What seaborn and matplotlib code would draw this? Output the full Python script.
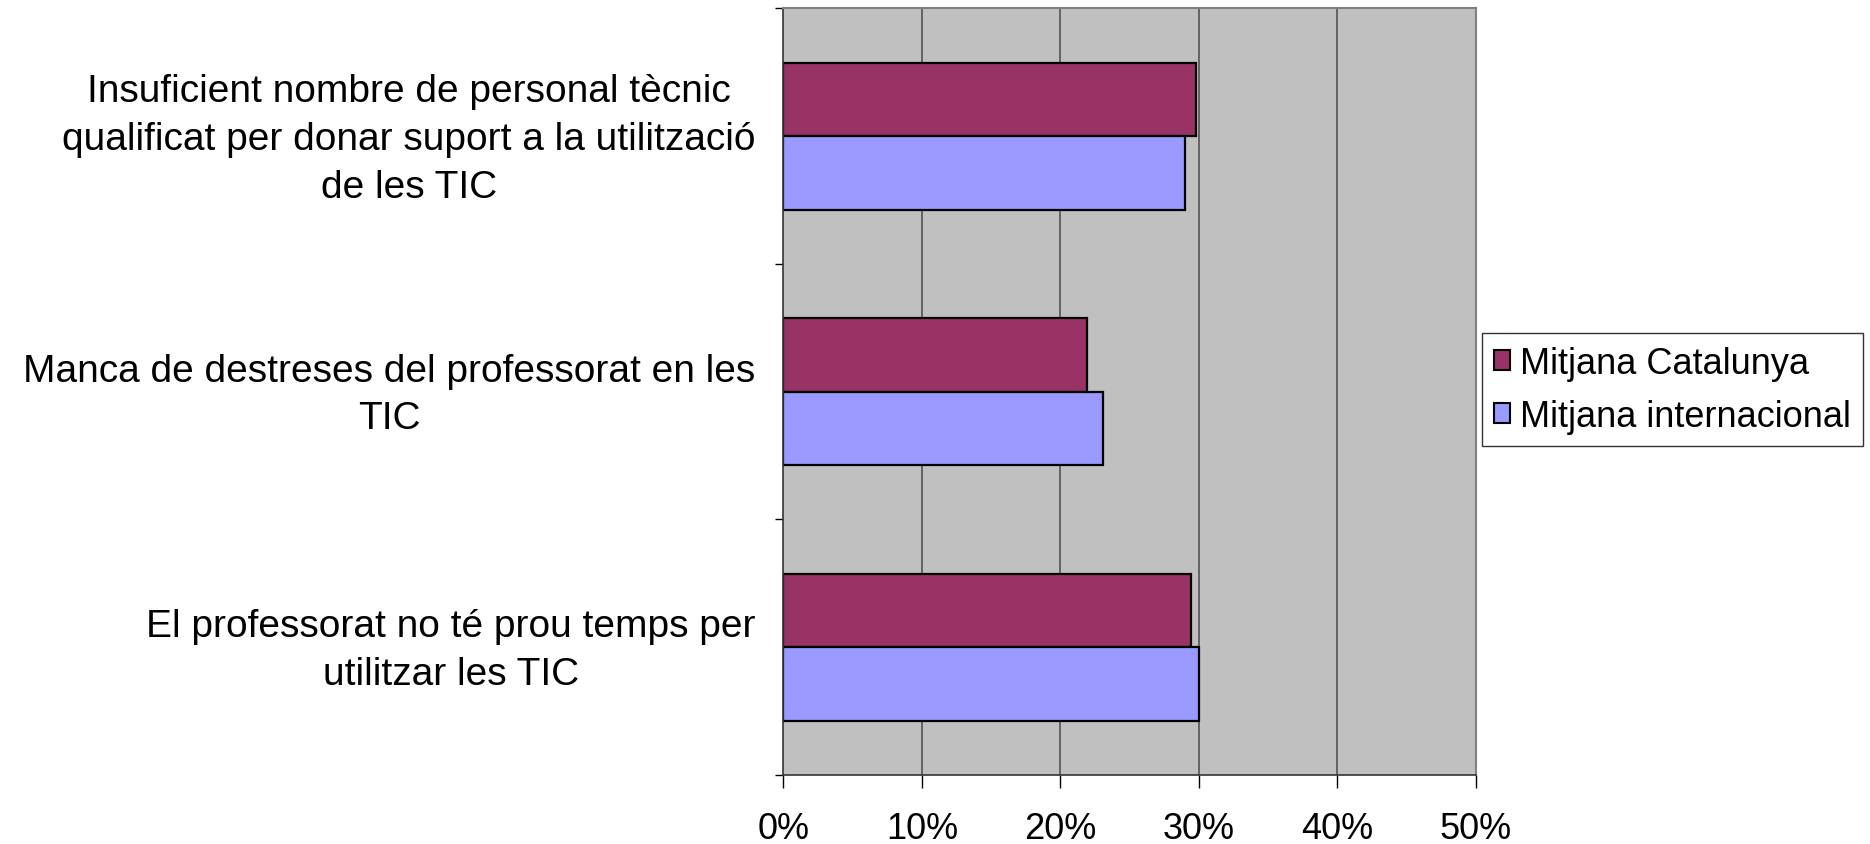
import matplotlib
matplotlib.use('Agg')
import matplotlib.pyplot as plt
import matplotlib.ticker as mticker
import matplotlib.transforms as mtransforms
import seaborn as sns
import pandas as pd
import numpy as np

# values (fractions)
categories = ['Insuficient nombre de personal tècnic\nqualificat per donar suport a la utilització\nde les TIC',
              'Manca de destreses del professorat en les\nTIC',
              'El professorat no té prou temps per\nutilitzar les TIC']
series = ['Mitjana Catalunya', 'Mitjana internacional']
catalunya = [0.298, 0.219, 0.294]
internacional = [0.290, 0.231, 0.300]
colors = ['#993366', '#9999FF']
xticks = [0, 0.1, 0.2, 0.3, 0.4, 0.5]

df = pd.DataFrame({
    'cat': categories * 2,
    'serie': [series[0]] * 3 + [series[1]] * 3,
    'val': catalunya + internacional,
})

sns.set_style('white')
plt.rcParams['font.family'] = ['Liberation Sans', 'DejaVu Sans']
plt.rcParams['text.color'] = 'black'
plt.rcParams['xtick.color'] = 'black'
plt.rcParams['ytick.color'] = 'black'

fig = plt.figure(figsize=[18.7, 8.45], dpi=100)
ax = fig.add_axes([0.4189, 0.0817, 0.7893 - 0.4189, 0.9888 - 0.0817])
ax.set_facecolor('#C0C0C0')

sns.barplot(data=df, y='cat', x='val', hue='serie', order=categories, hue_order=series,
            palette=dict(zip(series, colors)), orient='h', width=0.575,
            edgecolor='black', linewidth=1.6, saturation=1, ax=ax, legend=True)

ax.set_xlim(0, 0.5)
ax.set_ylim(2.5, -0.5)
ax.set_xticks(xticks)
ax.xaxis.set_major_formatter(mticker.PercentFormatter(1.0, decimals=0))
for x in xticks[1:-1]:
    ax.axvline(x, color='#4a4a4a', lw=1.1, zorder=0.5)
ax.set_axisbelow(True)

ax.set_xlabel('')
ax.set_ylabel('')

# category labels: written as text next to the axis so they can be nudged a little
ax.set_yticks(range(3))
ax.set_yticklabels([''] * 3)
lab_tr = mtransforms.blended_transform_factory(ax.transAxes, ax.transData) + \
    mtransforms.ScaledTranslation(-20 / 72, -2 / 72, fig.dpi_scale_trans)
for i, c in enumerate(categories):
    ax.text(0, i, c, transform=lab_tr, ha='right', va='center', multialignment='center',
            fontsize=28, linespacing=1.42, color='black')

ax.set_yticks([-0.5, 0.5, 1.5, 2.5], minor=True)
ax.tick_params(axis='y', which='major', length=0)
ax.tick_params(axis='y', which='minor', length=6, width=1, color='black', direction='out', left=True)
ax.tick_params(axis='x', length=9, width=1, color='black', direction='out', bottom=True, pad=17,
               labelsize=26, labelcolor='black')

for s in ['top', 'right']:
    ax.spines[s].set_color('#808080')
    ax.spines[s].set_linewidth(1.5)
for s in ['left', 'bottom']:
    ax.spines[s].set_color('#333333')
    ax.spines[s].set_linewidth(1.2)

leg = ax.legend(loc='upper left', bbox_to_anchor=(0.7923, 0.6047), bbox_transform=fig.transFigure,
                frameon=True, fancybox=False, fontsize=26, handlelength=0.45, handleheight=0.45,
                handletextpad=0.25, labelspacing=0.5, borderpad=0.35, borderaxespad=0)
leg.get_frame().set_edgecolor('black')
leg.get_frame().set_linewidth(1)
for h in leg.legend_handles:
    h.set_linewidth(1.5)
for t in leg.get_texts():
    t.set_color('black')

plt.savefig('out.png', dpi=100)
